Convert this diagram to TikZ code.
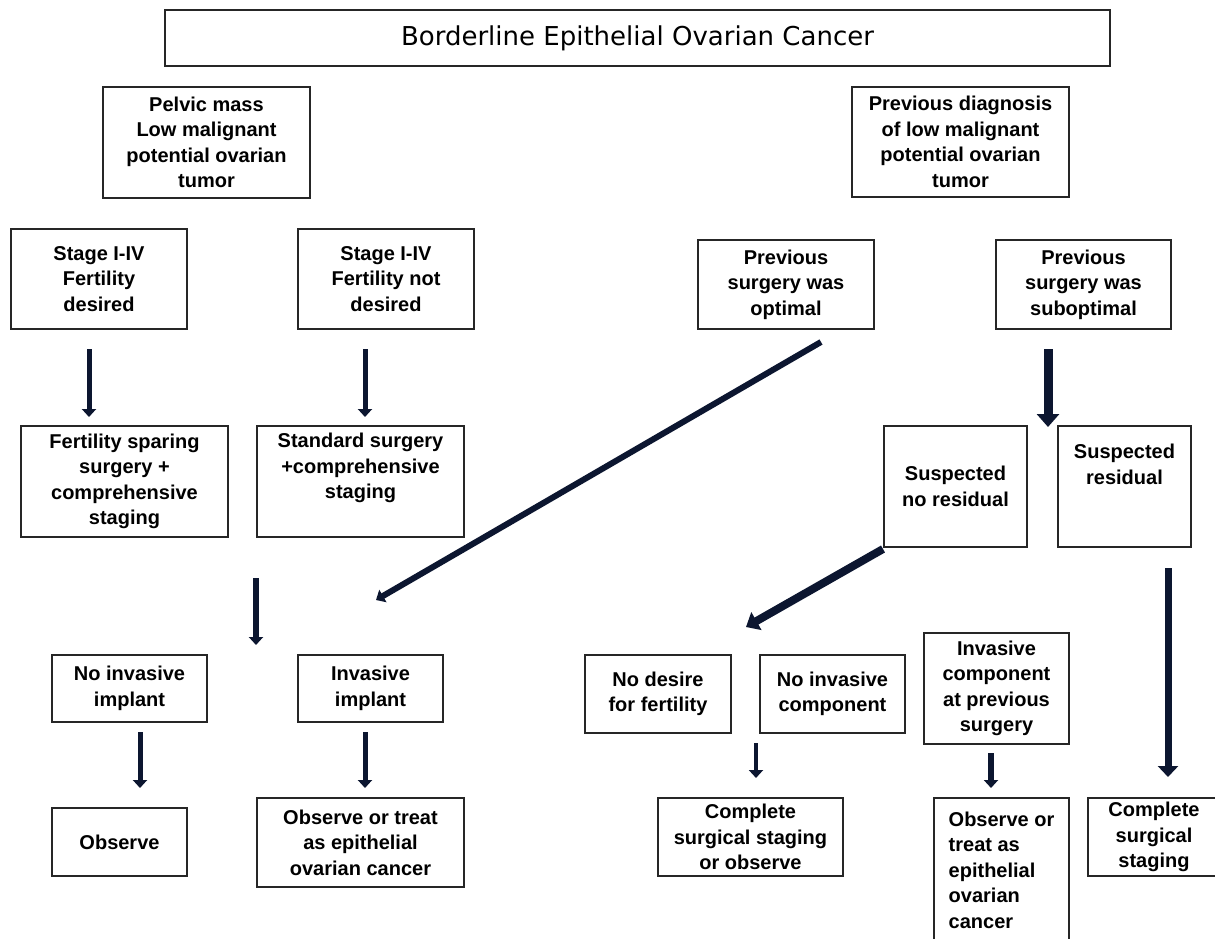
\documentclass[tikz,border=0pt]{standalone}
\usepackage{fontspec}
\setmainfont{Liberation Sans}
\newfontfamily\titlefont{DejaVu Sans}
\usetikzlibrary{arrows.meta,positioning}
\definecolor{arrnavy}{RGB}{12,22,48}
\newcommand{\boxfont}{\fontsize{20}{25.5}\selectfont\bfseries}
\tikzset{bx/.style={draw=black!85, line width=2pt, align=center, inner sep=3pt, font=\boxfont}}
\tikzset{titlebx/.style={bx, font=\titlefont\fontsize{26}{30}\selectfont}}
\tikzset{arr/.style={draw=arrnavy, line width=5pt, -{Triangle[width=14pt,length=8pt]}}}
\tikzset{bigarr/.style={arr, line width=9pt, -{Triangle[width=22pt,length=13pt]}}}

\begin{document}
\begin{tikzpicture}[x=1pt,y=-1pt]
		\path[use as bounding box, fill=white] (0,0) rectangle (1215,938);

		\node[titlebx, minimum width=945pt, minimum height=56pt] (title) at (637.5,38){Borderline Epithelial Ovarian Cancer};

		% left branch
		\node[bx, minimum width=207pt, minimum height=111pt] (pelvic) at (206.5,142.5){Pelvic mass\\Low malignant\\potential ovarian\\tumor};
		\node[bx, minimum width=176pt, minimum height=100pt] (fertyes) at (99,279){Stage I-IV\\Fertility\\desired};
		\node[bx, minimum width=176pt, minimum height=100pt] (fertno) at (386,279){Stage I-IV\\Fertility not\\desired};
		\node[bx, minimum width=207pt, minimum height=111pt] (sparing) at (124.5,481.5){Fertility sparing\\surgery +\\comprehensive\\staging};
		\node[bx, minimum width=207pt, minimum height=111pt, text depth=31pt] (standard) at (360.5,481.5){Standard surgery\\+comprehensive\\staging};
		\node[bx, minimum width=155pt, minimum height=67pt] (noimpl) at (129.5,688.5){No invasive\\implant};
		\node[bx, minimum width=145pt, minimum height=67pt] (impl) at (370.5,688.5){Invasive\\implant};
		\node[bx, minimum width=135pt, minimum height=68pt] (observe) at (119.5,842){Observe};
		\node[bx, minimum width=207pt, minimum height=89pt] (treatA) at (360.5,842.5){Observe or treat\\as epithelial\\ovarian cancer};

		% right branch
		\node[bx, minimum width=217pt, minimum height=110pt] (prevdx) at (960.5,142){Previous diagnosis\\of low malignant\\potential ovarian\\tumor};
		\node[bx, minimum width=176pt, minimum height=89pt] (optimal) at (786,284.5){Previous\\surgery was\\optimal};
		\node[bx, minimum width=175pt, minimum height=89pt] (subopt) at (1083.5,284.5){Previous\\surgery was\\suboptimal};
		\node[bx, minimum width=143pt, minimum height=121pt] (nores) at (955.5,486.5){Suspected\\no residual};
		\node[bx, minimum width=133pt, minimum height=121pt, text depth=45pt] (resid) at (1124.5,486.5){Suspected\\residual};
		\node[bx, minimum width=146pt, minimum height=78pt] (nodesire) at (658,694){No desire\\for fertility};
		\node[bx, minimum width=145pt, minimum height=78pt] (nocomp) at (832.5,694){No invasive\\component};
		\node[bx, minimum width=145pt, minimum height=111pt] (invcomp) at (996.5,688.5){Invasive\\component\\at previous\\surgery};
		\node[bx, minimum width=185pt, minimum height=78pt] (stagobs) at (750.5,837){Complete\\surgical staging\\or observe};
		\node[bx, minimum width=135pt, minimum height=144pt, align=left] (treatB) at (1001.5,870){Observe or\\treat as\\epithelial\\ovarian\\cancer};
		\node[bx, minimum width=132pt, minimum height=78pt] (staging) at (1154,837){Complete\\surgical\\staging};

		% arrow ends
		\coordinate (fy1) at (89,349);   \coordinate (fy2) at (89,417);
		\coordinate (fn1) at (365,349);  \coordinate (fn2) at (365,417);
		\coordinate (imp1) at (256,578); \coordinate (imp2) at (256,645);
		\coordinate (op1) at (821,342);  \coordinate (op2) at (376,600);
		\coordinate (sub1) at (1048,349); \coordinate (sub2) at (1048,427);
		\coordinate (nr1) at (883,549);  \coordinate (nr2) at (746,627);
		\coordinate (rs1) at (1168,568); \coordinate (rs2) at (1168,777);
		\coordinate (ni1) at (140,732);  \coordinate (ni2) at (140,788);
		\coordinate (ii1) at (365,732);  \coordinate (ii2) at (365,788);
		\coordinate (nc1) at (756,743);  \coordinate (nc2) at (756,778);
		\coordinate (ic1) at (991,753);  \coordinate (ic2) at (991,788);

		\draw[arr] (fy1) -- (fy2);
		\draw[arr] (fn1) -- (fn2);
		\draw[arr, line width=6pt] (imp1) -- (imp2);
		\draw[arr, line width=6pt] (op1) -- (op2);
		\draw[bigarr] (sub1) -- (sub2);
		\draw[arr, line width=8pt, -{Triangle[width=20pt,length=12pt]}] (nr1) -- (nr2);
		\draw[arr, line width=7pt, -{Triangle[width=20pt,length=11pt]}] (rs1) -- (rs2);
		\draw[arr] (ni1) -- (ni2);
		\draw[arr] (ii1) -- (ii2);
		\draw[arr, line width=4pt] (nc1) -- (nc2);
		\draw[arr, line width=6pt] (ic1) -- (ic2);
	\end{tikzpicture}
\end{document}
